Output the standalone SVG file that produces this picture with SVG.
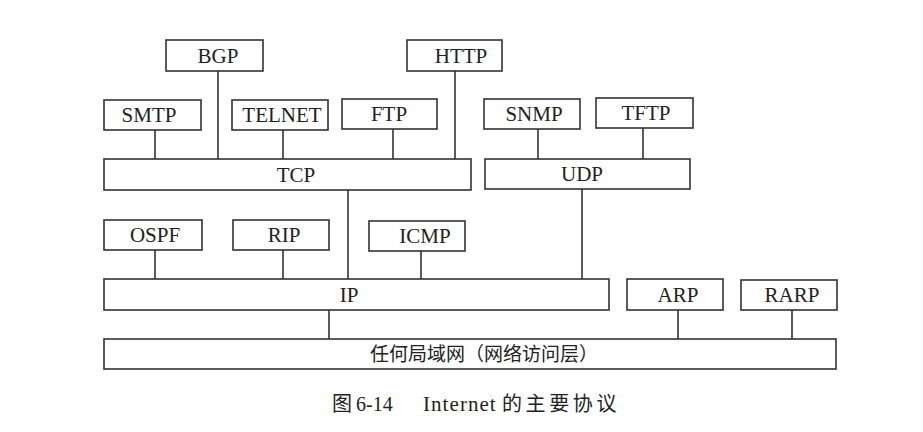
<svg xmlns="http://www.w3.org/2000/svg" width="923" height="432" viewBox="0 0 923 432">
<style>
.box{fill:#ffffff;stroke:#333333;stroke-width:1.6}
.lbl{font-family:"Liberation Serif","Times New Roman",serif;font-size:21px;fill:#222222;text-anchor:middle}
.cjk{font-family:"Noto Sans CJK SC","Liberation Serif",sans-serif;fill:#222222}
.ser{font-family:"Liberation Serif","Times New Roman",serif}
.ln{stroke:#333333;stroke-width:1.6;fill:none}
</style>
<rect x="0" y="0" width="923" height="432" fill="#ffffff"/>
<g id="connectors">
<line class="ln" x1="155" y1="130" x2="155" y2="159"/>
<line class="ln" x1="218" y1="71" x2="218" y2="159"/>
<line class="ln" x1="283" y1="130" x2="283" y2="159"/>
<line class="ln" x1="393" y1="129" x2="393" y2="159"/>
<line class="ln" x1="455" y1="71" x2="455" y2="159"/>
<line class="ln" x1="538" y1="129" x2="538" y2="159"/>
<line class="ln" x1="643" y1="128" x2="643" y2="159"/>
<line class="ln" x1="348" y1="190" x2="348" y2="279"/>
<line class="ln" x1="582" y1="189" x2="582" y2="279"/>
<line class="ln" x1="155" y1="250" x2="155" y2="279"/>
<line class="ln" x1="283" y1="250" x2="283" y2="279"/>
<line class="ln" x1="421" y1="251" x2="421" y2="279"/>
<line class="ln" x1="329" y1="310" x2="329" y2="339"/>
<line class="ln" x1="678" y1="310" x2="678" y2="339"/>
<line class="ln" x1="792" y1="310" x2="792" y2="339"/>
</g>
<g id="bgp"><rect class="box" x="166" y="40" width="97" height="31"/><text class="lbl" x="218" y="62.5">BGP</text></g>
<g id="http"><rect class="box" x="407" y="40" width="95" height="31"/><text class="lbl" x="461" y="62.5">HTTP</text></g>
<g id="smtp"><rect class="box" x="104" y="100" width="97" height="30"/><text class="lbl" x="149" y="122">SMTP</text></g>
<g id="telnet"><rect class="box" x="232" y="100" width="96" height="30"/><text class="lbl" x="282" y="122">TELNET</text></g>
<g id="ftp"><rect class="box" x="342" y="99" width="95" height="30"/><text class="lbl" x="389" y="121">FTP</text></g>
<g id="snmp"><rect class="box" x="484" y="99" width="96" height="30"/><text class="lbl" x="534" y="121">SNMP</text></g>
<g id="tftp"><rect class="box" x="596" y="98" width="97" height="30"/><text class="lbl" x="646" y="120">TFTP</text></g>
<g id="tcp"><rect class="box" x="104" y="159" width="367" height="31"/><text class="lbl" x="296" y="181.5">TCP</text></g>
<g id="udp"><rect class="box" x="485" y="159" width="205" height="30"/><text class="lbl" x="582" y="181">UDP</text></g>
<g id="ospf"><rect class="box" x="104" y="220" width="98" height="30"/><text class="lbl" x="155" y="242">OSPF</text></g>
<g id="rip"><rect class="box" x="233" y="220" width="96" height="30"/><text class="lbl" x="284" y="242">RIP</text></g>
<g id="icmp"><rect class="box" x="369" y="221" width="96" height="30"/><text class="lbl" x="425" y="243">ICMP</text></g>
<g id="ip"><rect class="box" x="104" y="279" width="505" height="31"/><text class="lbl" x="349" y="301.5">IP</text></g>
<g id="arp"><rect class="box" x="627" y="279" width="96" height="31"/><text class="lbl" x="678" y="301.5">ARP</text></g>
<g id="rarp"><rect class="box" x="741" y="280" width="96" height="30"/><text class="lbl" x="792" y="302">RARP</text></g>
<g id="lan"><rect class="box" x="104" y="339" width="732" height="30"/><text class="cjk" x="370" y="361" font-size="19">任何局域网（网络访问层）</text></g>
<g id="caption">
<text y="411" fill="#222222" font-size="20"><tspan class="cjk" x="332">图 </tspan><tspan class="ser" x="356">6-14   </tspan><tspan class="ser" x="423" font-size="21" textLength="79">Internet </tspan><tspan class="cjk" x="502" letter-spacing="3.6">的主要协议</tspan></text>
</g>
</svg>
